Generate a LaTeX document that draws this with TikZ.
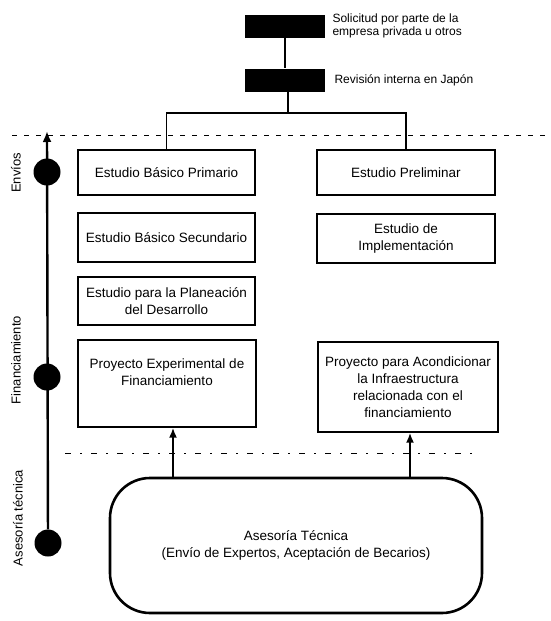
\documentclass[tikz,border=0pt]{standalone}
\usepackage{fontspec}
\setmainfont{Liberation Sans}
\usetikzlibrary{shapes,arrows.meta}
\usetikzlibrary{fit,calc}
\tikzstyle{caja}=[draw, line width=1.3pt, align=center, inner sep=2pt, font=\fontsize{13.5}{17}\selectfont]
\tikzstyle{negra}=[fill=black, minimum width=80pt, minimum height=23pt]
\tikzstyle{nota}=[anchor=west, align=left, font=\fontsize{12}{13.5}\selectfont]
\tikzstyle{punto}=[circle, fill=black, minimum size=27pt, inner sep=0pt]
\tikzstyle{etapa}=[rotate=90, font=\fontsize{13}{15}\selectfont]
\tikzstyle{flecha}=[line width=2.2pt, -{Latex[length=10pt,width=8pt]}]

\begin{document}
\begin{tikzpicture}[x=1pt,y=-1pt]
\useasboundingbox (0,0) rectangle (551,621);
% solicitud y revision
\node[negra] (solic) at (285,26) {};
\node[nota] (tsolic) at (329,26) {Solicitud por parte de la\\empresa privada u otros};
\node[negra] (revis) at (285,80) {};
\node[nota] (trevis) at (331,80) {Revisión interna en Japón};
\coordinate (rama) at (288,113);
\draw[line width=2.2pt] (solic) -- (revis);
\draw[line width=2.2pt] (revis.south -| rama) -- (rama);
% estudios
\node[caja, minimum width=177pt, minimum height=45pt] (ebp) at (166.5,172.5) {Estudio Básico Primario};
\node[caja, minimum width=178pt, minimum height=45pt] (epre) at (406,172.5) {Estudio Preliminar};
\node[caja, minimum width=177pt, minimum height=49pt] (ebs) at (166.5,237.5) {Estudio Básico Secundario};
\node[caja, minimum width=178pt, minimum height=49pt] (eimp) at (406,238.5) {Estudio de\\Implementación};
\node[caja, minimum width=177pt, minimum height=48pt] (epd) at (166.5,301) {Estudio para la Planeación\\del Desarrollo};
\node[caja, minimum width=178pt, minimum height=87pt, text depth=22pt] (pef) at (167,383.5) {Proyecto Experimental de\\Financiamiento};
\node[caja, minimum width=180pt, minimum height=90pt] (pai) at (408,387) {Proyecto para Acondicionar\\la Infraestructura\\relacionada con el\\financiamiento};
\draw[line width=1.4pt] (ebp.north) |- (rama) -| (epre.north);
% lineas de separacion
\draw[dashed, dash pattern=on 5pt off 7pt, line width=0.8pt] (12,135) -- (551,135);
\draw[dash pattern=on 6pt off 9pt on 2pt off 9pt, line width=0.8pt] (65,453) -- (475,453);
% asesoria
\node[draw, line width=2.6pt, rounded corners=40pt, minimum width=372pt, minimum height=135pt, align=center, font=\fontsize{13.5}{17}\selectfont] (aseso) at (296,545.5) {Asesoría Técnica\\(Envío de Expertos, Aceptación de Becarios)};
\coordinate (fa) at ($(pef.south)+(6,0)$);
\coordinate (fb) at ($(pai.south)+(2,0)$);
\draw[flecha] (fa |- aseso.north) -- (fa);
\draw[flecha] (fb |- aseso.north) -- (fb);
% linea de etapas
\node[punto] (p1) at (47,172) {};
\node[punto] (p2) at (47,377) {};
\node[punto] (p3) at (48,543) {};
\coordinate (tope) at (47,131);
\draw[line width=2.4pt, -{Latex[length=11pt,width=9pt]}] (p3) -- (tope);
\node[etapa] (e1) at (16,173) {Envíos};
\node[etapa] (e2) at (16,360) {Financiamiento};
\node[etapa] (e3) at (18,518) {Asesoría técnica};
\end{tikzpicture}
\end{document}
